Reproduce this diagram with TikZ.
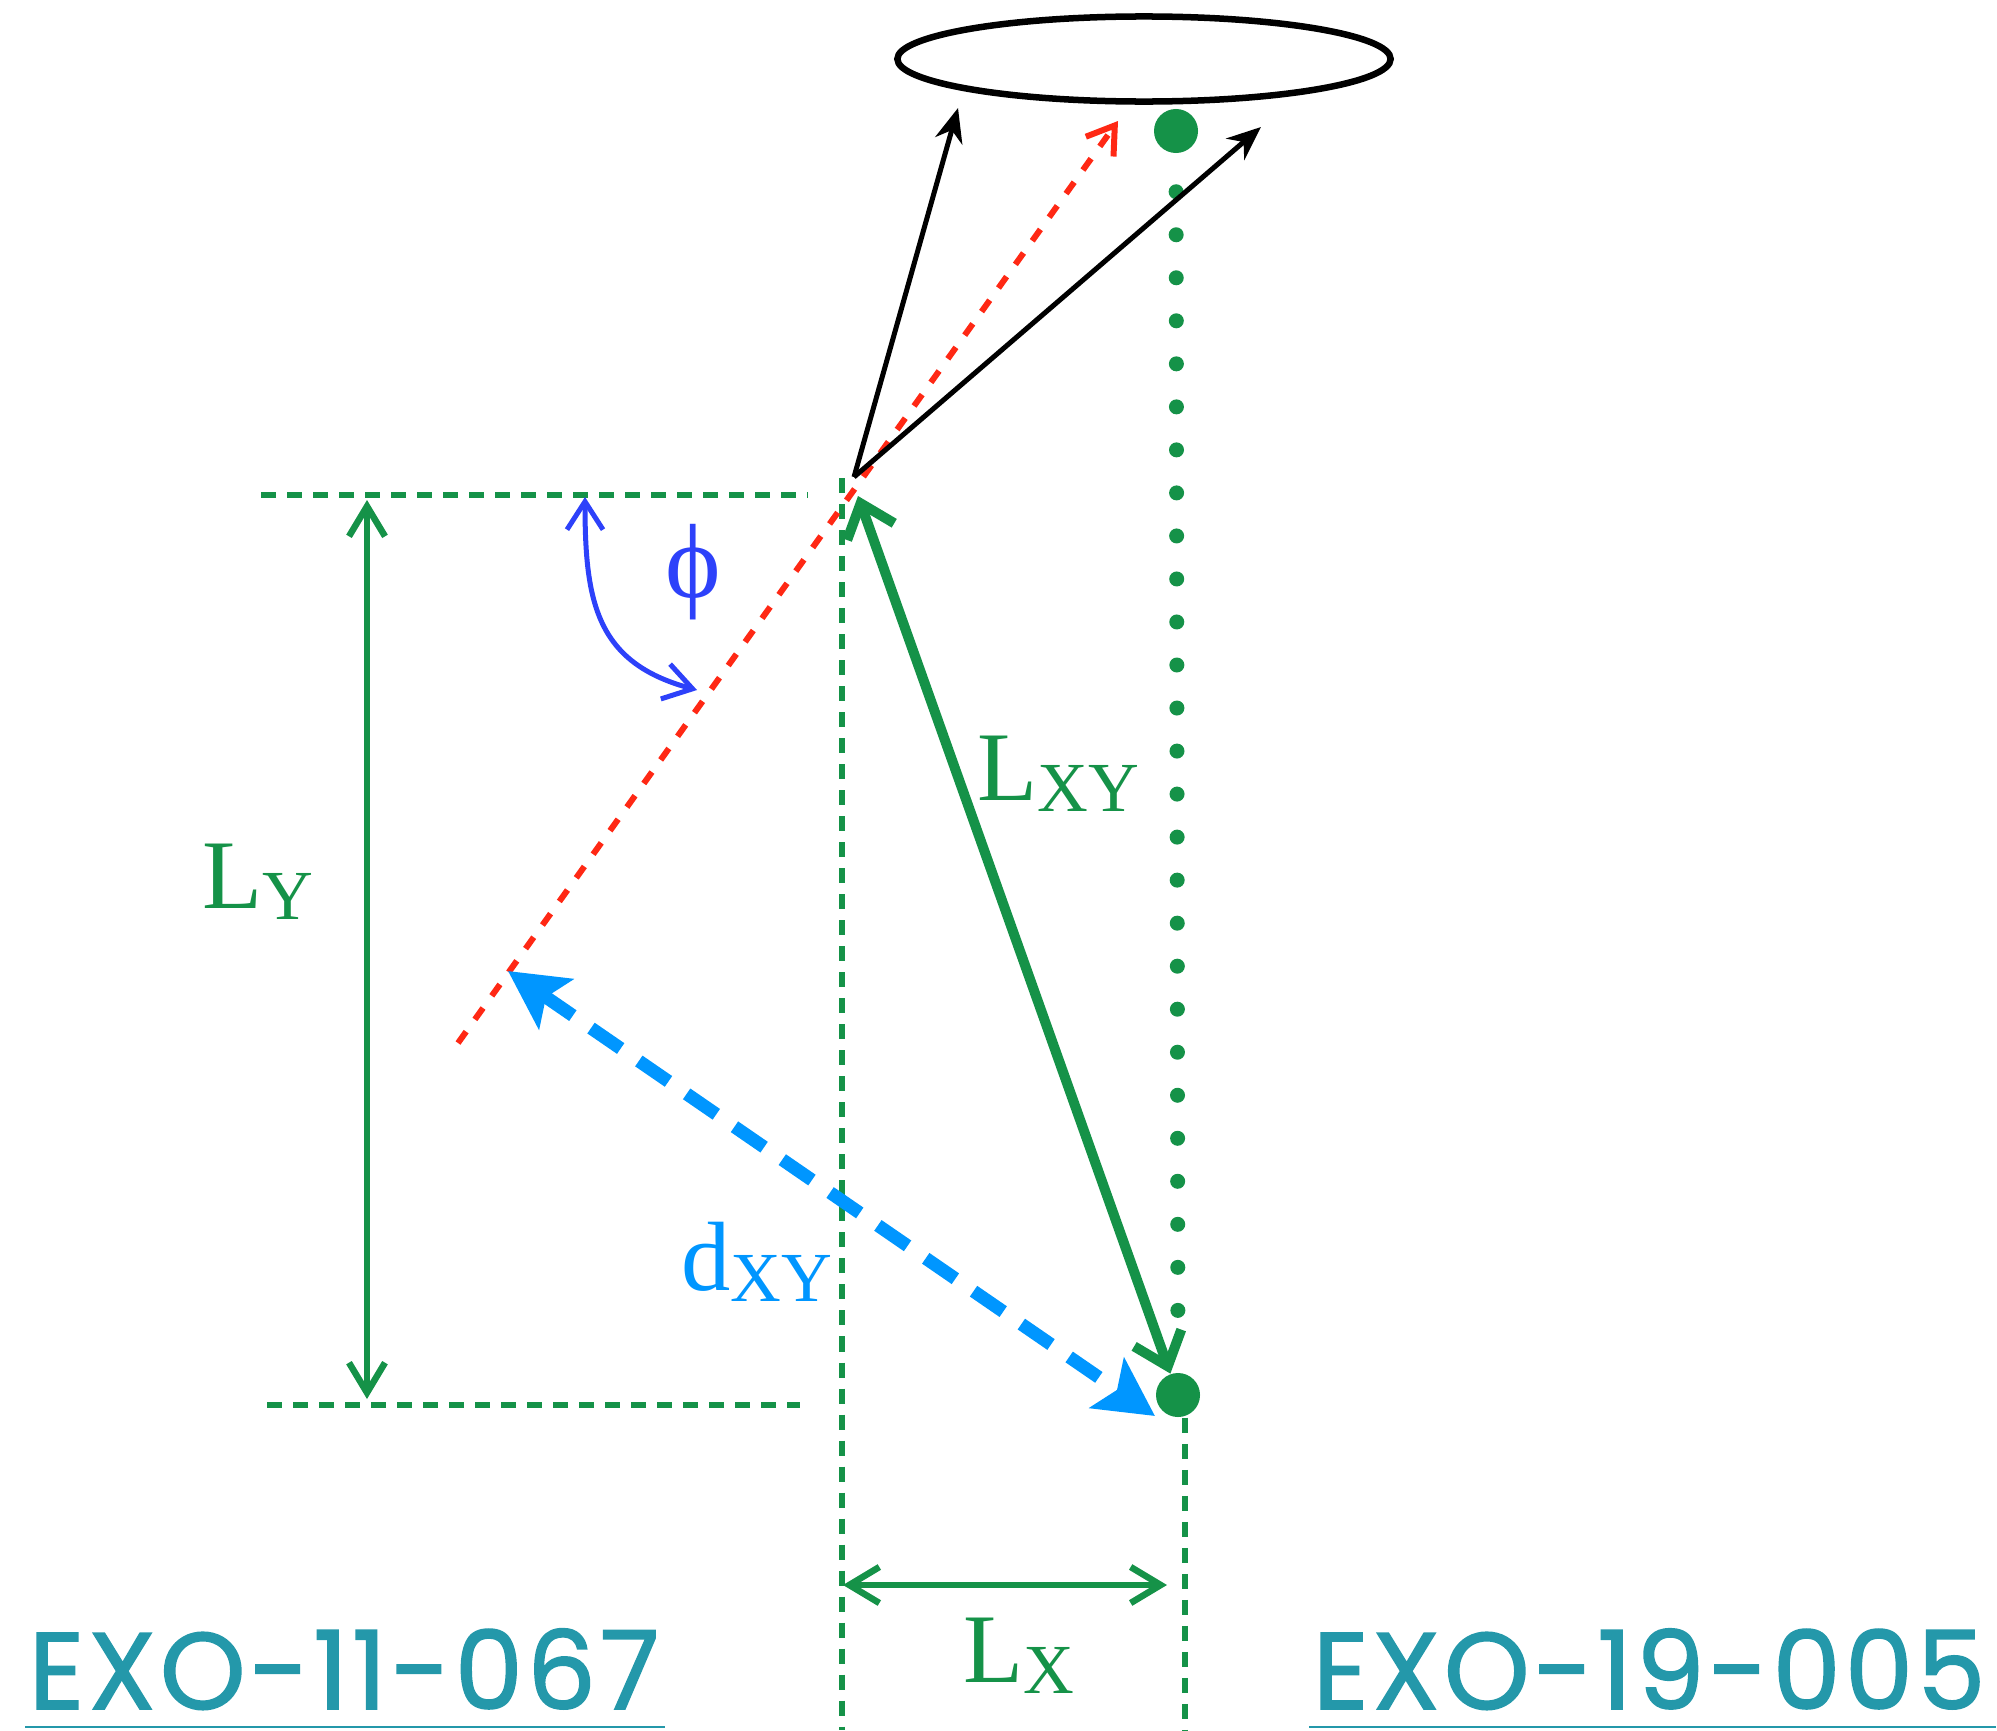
\documentclass[tikz,border=0pt]{standalone}
\usepackage{fontspec}
\setmainfont{Liberation Serif}
\newfontfamily\exofont[FakeBold=1.4, LetterSpace=3.5]{Poppins}
\usepackage{xcolor}
\definecolor{geomgreen}{RGB}{21, 146, 72}
\definecolor{rayred}{RGB}{255, 40, 20}
\definecolor{angblue}{RGB}{45, 65, 250}
\definecolor{distblue}{RGB}{0, 150, 255}
\definecolor{exoteal}{RGB}{36, 152, 170}
\usetikzlibrary{arrows.meta, shapes.geometric}
\newcommand{\lowsub}[1]{\raisebox{-0.12em}{\fontsize{20}{20}\selectfont #1}}

\begin{document}
\begin{tikzpicture}[x=0.01cm, y=0.01cm]

  \tikzstyle{guide} = [geomgreen, line width=0.065cm, dash pattern=on 0.15cm off 0.11cm]
  \tikzstyle{dotguide} = [geomgreen, line width=0.15cm, line cap=round, dash pattern=on 0pt off 0.43cm]
  \tikzstyle{blackray} = [black, line width=0.05cm, -{Stealth[length=0.34cm, width=0.28cm]}]
  \tikzstyle{redray} = [rayred, line width=0.06cm, dash pattern=on 0.14cm off 0.15cm,
    -{Straight Barb[length=0.26cm, width=0.34cm]}]
  \tikzstyle{dimline} = [geomgreen, line width=0.065cm,
    {Straight Barb[length=0.3cm, width=0.36cm]}-{Straight Barb[length=0.3cm, width=0.36cm]}]
  \tikzstyle{lxyline} = [geomgreen, line width=0.1cm,
    {Straight Barb[length=0.3cm, width=0.5cm]}-{Straight Barb[length=0.3cm, width=0.5cm]}]
  \tikzstyle{dxyline} = [distblue, line width=0.13cm, dash pattern=on 0.36cm off 0.22cm,
    {Stealth[length=0.58cm, width=0.6cm, inset=0.12cm]}-{Stealth[length=0.58cm, width=0.6cm, inset=0.12cm]}]
  \tikzstyle{anglearc} = [angblue, line width=0.05cm,
    {Straight Barb[length=0.28cm, width=0.36cm]}-{Straight Barb[length=0.28cm, width=0.36cm]}]
  \tikzstyle{dot} = [circle, fill=geomgreen, minimum size=0.44cm, inner sep=0]
  \tikzstyle{glabel} = [anchor=base west, inner sep=0, text=geomgreen, font=\fontsize{28}{28}\selectfont]
  \tikzstyle{exolabel} = [anchor=base west, inner sep=0, text=exoteal,
    font=\exofont\fontsize{31}{31}\selectfont]

  \useasboundingbox (0,0) rectangle (1997,-1730);

  \node[ellipse, draw, line width=0.065cm, minimum width=4.93cm, minimum height=0.85cm, inner sep=0]
    (disk) at (1144,-59) {};
  \node[dot] (dotA) at (1176,-131) {};
  \node[dot] (dotB) at (1178,-1395) {};

  \coordinate (src) at (854,-477);
  \coordinate (tipL) at (958,-108);
  \coordinate (tipM) at (1118,-121);
  \coordinate (tipR) at (1261,-127);
  \coordinate (rayEnd) at (458,-1043);
  \coordinate (hTopL) at (261,-495);
  \coordinate (hTopR) at (808,-495);
  \coordinate (hBotL) at (267,-1405);
  \coordinate (hBotR) at (800,-1405);
  \coordinate (vTop) at (842,-478);
  \coordinate (vBot) at (842,-1730);
  \coordinate (xBot) at (1185,-1730);
  \coordinate (lyTop) at (367,-500);
  \coordinate (lyBot) at (367,-1399);
  \coordinate (lxL) at (843,-1585);
  \coordinate (lxR) at (1167,-1585);
  \coordinate (lxyTop) at (858,-496);
  \coordinate (dStart) at (508,-971);
  \coordinate (dEnd) at (1155,-1416);
  \coordinate (phiTop) at (585,-497);
  \coordinate (phiBot) at (697,-690);

  \draw[guide] (hTopL) -- (hTopR);
  \draw[guide] (hBotL) -- (hBotR);
  \draw[guide] (vTop) -- (vBot);
  \draw[guide] (dotB.south -| xBot) -- (xBot);
  \draw[dotguide, shorten <=0.38cm, shorten >=0.2cm] (dotA) -- (dotB);

  \draw[redray] (rayEnd) -- (tipM);
  \draw[blackray] (src) -- (tipL);
  \draw[blackray] (src) -- (tipR);

  \draw[dimline] (lyTop) -- (lyBot);
  \draw[dimline] (lxL) -- (lxR);
  \draw[lxyline] (lxyTop) -- (dotB);
  \draw[dxyline] (dStart) -- (dEnd);
  \draw[anglearc] (phiTop) to[out=-90, in=165, looseness=1.2] (phiBot);

  \node[glabel] (ly) at (202,-908) {L\lowsub{Y}};
  \node[glabel] (lxy) at (977,-800) {L\lowsub{XY}};
  \node[glabel] (lx) at (963,-1682) {L\lowsub{X}};
  \node[glabel, text=distblue] (dxy) at (681,-1290) {d\lowsub{XY}};
  \node[inner sep=0, text=angblue, font=\fontsize{30}{30}\selectfont] (phi) at (693,-572) {ϕ};

  \node[exolabel] (exoL) at (28,-1709) {EXO-11-067};
  \node[exolabel] (exoR) at (1312,-1709) {EXO-19-005};
  \draw[exoteal, line width=0.02cm] ([shift={(-3,-18)}]exoL.base west) -- ([shift={(5,-18)}]exoL.base east);
  \draw[exoteal, line width=0.02cm] ([shift={(-3,-18)}]exoR.base west) -- ([shift={(10,-18)}]exoR.base east);

\end{tikzpicture}
\end{document}
